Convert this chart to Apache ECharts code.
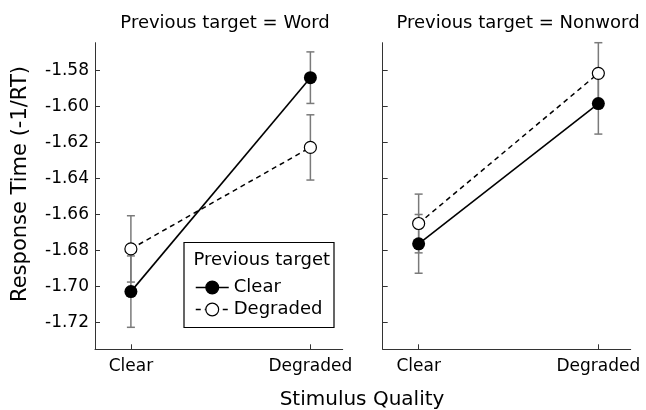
<!DOCTYPE html>
<html>
<head>
<meta charset="utf-8">
<script src="https://cdn.jsdelivr.net/npm/echarts@6/dist/echarts.min.js"></script>
<style>
  html, body { margin: 0; padding: 0; background: #fff; }
  #chart { width: 646px; height: 410px; }
</style>
</head>
<body>
<div id="chart"></div>
<script>
// Panel titles, x categories, legend entries and y ticks
const panelTitles = ['Previous target = Word', 'Previous target = Nonword'];
const qualityCategories = ['Clear', 'Degraded'];
const previousTargets = ['Clear', 'Degraded'];
const yTicks = [-1.58, -1.60, -1.62, -1.64, -1.66, -1.68, -1.70, -1.72];

// Mean response time (-1/RT) for current stimulus Clear / Degraded, with error half-widths
const wordPrevClear = [-1.7028, -1.5841];
const wordPrevClearErr = [0.0198, 0.0143];
const wordPrevDegraded = [-1.6791, -1.6228];
const wordPrevDegradedErr = [0.0184, 0.0181];

const nonwordPrevClear = [-1.6763, -1.5985];
const nonwordPrevClearErr = [0.0163, 0.0169];
const nonwordPrevDegraded = [-1.6650, -1.5817];
const nonwordPrevDegradedErr = [0.0163, 0.0170];

const FONT = 'DejaVu Sans';
const Y_MIN = -1.7348, Y_MAX = -1.5647;
const X_MIN = 0.8, X_MAX = 2.18;

const panels = [
  { clear: wordPrevClear, clearErr: wordPrevClearErr, degraded: wordPrevDegraded, degradedErr: wordPrevDegradedErr },
  { clear: nonwordPrevClear, clearErr: nonwordPrevClearErr, degraded: nonwordPrevDegraded, degradedErr: nonwordPrevDegradedErr }
];

const styles = [
  { // previous target clear: filled circle, solid line
    line: { color: '#000', width: 1.6, type: 'solid' },
    item: { color: '#000', borderColor: '#000', borderWidth: 0 },
    size: 13
  },
  { // previous target degraded: open circle, dashed line
    line: { color: '#000', width: 1.5, type: [5, 4] },
    item: { color: '#fff', borderColor: '#000', borderWidth: 1.2 },
    size: 12
  }
];

const points = vals => vals.map((v, i) => [i + 1, v]);
const errPoints = (vals, errs) => vals.map((v, i) => [i + 1, v, errs[i]]);

function renderErrorBar(params, api) {
  const x = api.value(0), y = api.value(1), e = api.value(2);
  const top = api.coord([x, y + e]);
  const bot = api.coord([x, y - e]);
  const hw = 4;
  const st = { stroke: '#7a7a7a', lineWidth: 1.5 };
  return {
    type: 'group',
    children: [
      { type: 'line', shape: { x1: top[0], y1: top[1], x2: bot[0], y2: bot[1] }, style: st },
      { type: 'line', shape: { x1: top[0] - hw, y1: top[1], x2: top[0] + hw, y2: top[1] }, style: st },
      { type: 'line', shape: { x1: bot[0] - hw, y1: bot[1], x2: bot[0] + hw, y2: bot[1] }, style: st }
    ]
  };
}

const grids = [
  { left: 95, top: 42.7, width: 247.7, height: 306.6, outerBoundsMode: 'none' },
  { left: 382.7, top: 42.7, width: 248, height: 306.6, outerBoundsMode: 'none' }
];

const axisLineStyle = { color: '#333', width: 1 };

const xAxes = grids.map((g, i) => ({
  type: 'value', gridIndex: i, min: X_MIN, max: X_MAX,
  axisLine: { show: true, lineStyle: axisLineStyle },
  axisTick: { show: true, inside: true, length: 5, customValues: [1, 2], lineStyle: axisLineStyle },
  axisLabel: {
    show: true, customValues: [1, 2], margin: 9,
    formatter: v => qualityCategories[Math.round(v) - 1] || '',
    fontFamily: FONT, fontSize: 17, color: '#000'
  },
  splitLine: { show: false }
}));

const yAxes = grids.map((g, i) => ({
  type: 'value', gridIndex: i, min: Y_MIN, max: Y_MAX,
  axisLine: { show: true, onZero: false, lineStyle: axisLineStyle },
  axisTick: { show: true, inside: true, length: 5, customValues: yTicks, lineStyle: axisLineStyle },
  axisLabel: {
    show: i === 0, customValues: yTicks, margin: 6,
    formatter: v => v.toFixed(2),
    fontFamily: FONT, fontSize: 17, color: '#000'
  },
  splitLine: { show: false }
}));

const series = [];
panels.forEach((p, i) => {
  const sets = [
    { name: previousTargets[0], vals: p.clear, errs: p.clearErr, st: styles[0] },
    { name: previousTargets[1], vals: p.degraded, errs: p.degradedErr, st: styles[1] }
  ];
  sets.forEach(s => {
    series.push({
      type: 'custom', xAxisIndex: i, yAxisIndex: i, z: 1, silent: true,
      renderItem: renderErrorBar, encode: { x: 0, y: 1 },
      data: errPoints(s.vals, s.errs)
    });
  });
  sets.forEach(s => {
    series.push({
      type: 'line', name: s.name, xAxisIndex: i, yAxisIndex: i, z: 3,
      symbol: 'circle', symbolSize: s.st.size, showSymbol: true,
      lineStyle: s.st.line, itemStyle: s.st.item,
      emphasis: { disabled: true },
      data: points(s.vals)
    });
  });
});

const chart = echarts.init(document.getElementById('chart'), null, { renderer: 'canvas' });
chart.setOption({
  animation: false,
  backgroundColor: '#fff',
  textStyle: { fontFamily: FONT },
  grid: grids,
  xAxis: xAxes,
  yAxis: yAxes,
  legend: {
    data: previousTargets,
    orient: 'vertical',
    left: 195, top: 278.5,
    padding: 0,
    z: 20,
    itemWidth: 33, itemHeight: 16, itemGap: 4,
    selectedMode: false,
    lineStyle: { width: 1.5 },
    itemStyle: { borderWidth: 1.2 },
    textStyle: { fontFamily: FONT, fontSize: 18, color: '#000', lineHeight: 18 }
  },
  graphic: [
    { type: 'text', x: 225, y: 23, style: { text: panelTitles[0], font: '18px "DejaVu Sans"', fill: '#000', textAlign: 'center', textVerticalAlign: 'middle' } },
    { type: 'text', x: 518, y: 23, style: { text: panelTitles[1], font: '18px "DejaVu Sans"', fill: '#000', textAlign: 'center', textVerticalAlign: 'middle' } },
    { type: 'text', x: 362, y: 400, style: { text: 'Stimulus Quality', font: '20px "DejaVu Sans"', fill: '#000', textAlign: 'center', textVerticalAlign: 'middle' } },
    { type: 'text', x: 20.5, y: 184, rotation: Math.PI / 2, style: { text: 'Response Time (-1/RT)', font: '21px "DejaVu Sans"', fill: '#000', textAlign: 'center', textVerticalAlign: 'middle' } },
    { type: 'rect', z: 5, shape: { x: 184, y: 242.5, width: 150, height: 85 }, style: { fill: '#fff', stroke: '#000', lineWidth: 1.2 } },
    { type: 'text', z: 6, x: 193.5, y: 260.5, style: { text: 'Previous target', font: '18px "DejaVu Sans"', fill: '#000', textAlign: 'left', textVerticalAlign: 'middle' } }
  ],
  series: series
});
</script>
</body>
</html>
